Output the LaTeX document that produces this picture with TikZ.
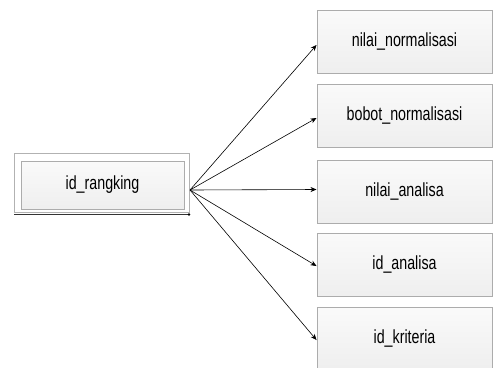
\documentclass[tikz,border=0pt]{standalone}
\usepackage{fontspec}
\setmainfont[FakeStretch=0.75]{Liberation Sans}
\usetikzlibrary{arrows.meta}

\tikzset{
  field/.style={draw=gray!65, line width=1pt, top color=gray!4, bottom color=gray!13,
    minimum width=175pt, minimum height=63pt, inner sep=0pt, font=\fontsize{19}{22}\selectfont},
  keyfield/.style={field, minimum width=163pt, minimum height=48pt},
  link/.style={line width=0.6pt, -{Stealth[length=6pt,width=5pt]}}
}

\begin{document}
\begin{tikzpicture}[x=1pt, y=-1pt]
  \clip (0,0) rectangle (494,367);
  \fill[white] (0,0) rectangle (494,367);

  % entity frame around the key attribute
  \draw[gray!60, line width=0.8pt] (14,153) rectangle (189,212);
  \draw[black!80, line width=0.8pt] (14,214.5) -- (189,214.5);
  \fill[black] (189,214.5) circle (1.3pt);

  \node[keyfield] (rk) at (102.5,185) {id\_rangking};

  % attribute boxes
  \node[field] (b1) at (404.5,41.5)  {nilai\_normalisasi};
  \node[field] (b2) at (404.5,115.5) {bobot\_normalisasi};
  \node[field] (b3) at (404.5,191.5) {nilai\_analisa};
  \node[field] (b4) at (404.5,264.5) {id\_analisa};
  \node[field] (b5) at (404.5,338.5) {id\_kriteria};

  \coordinate (hub) at (190,190);

  \draw[link] (hub) -- ([yshift=-3.5pt]b1.west);
  \draw[link] (hub) -- ([yshift=-2.5pt]b2.west);
  \draw[link] (hub) -- ([yshift=2pt]b3.west);
  \draw[link] (hub) -- ([yshift=-1.5pt]b4.west);
  \draw[link] (hub) -- ([yshift=-1.5pt]b5.west);
\end{tikzpicture}
\end{document}
